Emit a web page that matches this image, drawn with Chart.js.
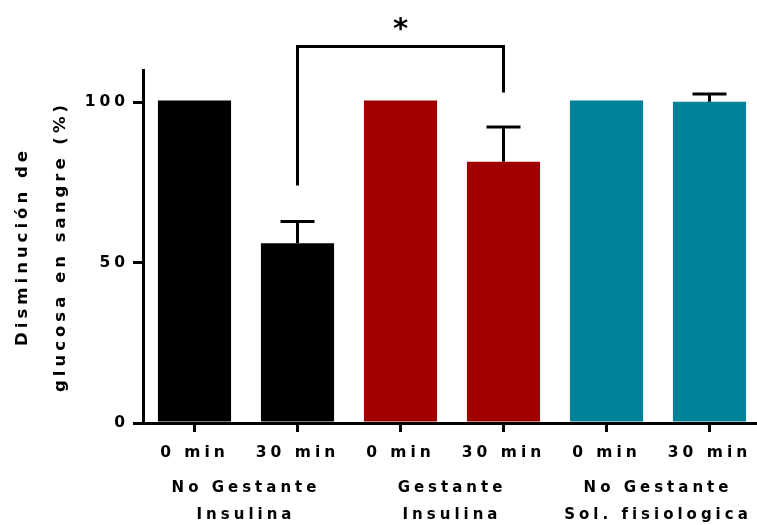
<!DOCTYPE html>
<html lang="es">
<head>
    <meta charset="UTF-8">
    <title>Glucosa en sangre</title>
    <script src="https://cdn.jsdelivr.net/npm/chart.js@4.4.1/dist/chart.umd.min.js"></script>
    <style>
        html, body { margin: 0; padding: 0; background: #fff; }
        #outer { width: 757px; height: 525px; overflow: hidden; }
        #wrap { width: 761px; height: 525px; position: relative; }
    </style>
</head>
<body>
<div id="outer"><div id="wrap"><canvas id="myChart"></canvas></div></div>
<script>
    // datos
    var categories = ['0 min', '30 min', '0 min', '30 min', '0 min', '30 min'];
    var groups = [['No Gestante', 'Insulina'], ['Gestante', 'Insulina'], ['No Gestante', 'Sol. fisiologica']];
    var values = [100.5, 56, 100.5, 81.4, 100.5, 100.1];
    var errUp = [0, 6.8, 0, 10.8, 0, 2.4];
    var barColors = ['#000000', '#000000', '#a00000', '#a00000', '#008299', '#008299'];
    var yTicks = [0, 50, 100];

    // corchete de significancia: barra 2 contra barra 4
    var bracketBars = [1, 3];
    var bracketEnds = [74, 103];
    var bracketTop = 117.3;
    var starLabel = '*';
    var starValue = 124;

    var fontFam = '"DejaVu Sans", Verdana, sans-serif';

    var extras = {
        id: 'extras',
        beforeDraw: function(chart) {
            chart.ctx.letterSpacing = '4px';
        },
        afterDatasetsDraw: function(chart) {
            var ctx = chart.ctx;
            var y = chart.scales.y;
            var meta = chart.getDatasetMeta(0);
            ctx.save();
            ctx.strokeStyle = '#000';
            ctx.lineWidth = 3;
            // barras de error (solo hacia arriba)
            for (var i = 0; i < values.length; i++) {
                if (!errUp[i]) continue;
                var cx = meta.data[i].x;
                var y0 = y.getPixelForValue(values[i]);
                var y1 = y.getPixelForValue(values[i] + errUp[i]);
                ctx.beginPath();
                ctx.moveTo(cx, y0);
                ctx.lineTo(cx, y1);
                ctx.moveTo(cx - 17, y1);
                ctx.lineTo(cx + 17, y1);
                ctx.stroke();
            }
            // corchete
            var xa = meta.data[bracketBars[0]].x;
            var xb = meta.data[bracketBars[1]].x;
            var yt = y.getPixelForValue(bracketTop);
            ctx.beginPath();
            ctx.moveTo(xa, y.getPixelForValue(bracketEnds[0]));
            ctx.lineTo(xa, yt);
            ctx.lineTo(xb, yt);
            ctx.lineTo(xb, y.getPixelForValue(bracketEnds[1]));
            ctx.stroke();
            ctx.letterSpacing = '0px';
            ctx.fillStyle = '#000';
            ctx.font = 'bold 29px ' + fontFam;
            ctx.textAlign = 'center';
            ctx.textBaseline = 'middle';
            ctx.fillText(starLabel, (xa + xb) / 2, y.getPixelForValue(starValue) + 5);
            ctx.restore();
        }
    };

    var ctx = document.getElementById('myChart').getContext('2d');
    var myChart = new Chart(ctx, {
        type: 'bar',
        data: {
            labels: categories,
            datasets: [{
                data: values,
                backgroundColor: barColors,
                borderWidth: 0,
                barPercentage: 0.71,
                categoryPercentage: 1
            }]
        },
        options: {
            responsive: true,
            maintainAspectRatio: false,
            animation: false,
            layout: { padding: { top: 70, left: 0, right: 0, bottom: 0 } },
            plugins: {
                legend: { display: false },
                tooltip: { enabled: false }
            },
            scales: {
                y: {
                    min: 0,
                    max: 110,
                    afterFit: function(s) { s.width = 143; },
                    afterBuildTicks: function(s) {
                        s.ticks = yTicks.map(function(v) { return { value: v }; });
                    },
                    ticks: {
                        color: '#000',
                        padding: 4,
                        font: { family: fontFam, size: 15.5, weight: 'bold' }
                    },
                    grid: {
                        drawOnChartArea: false,
                        drawTicks: true,
                        tickLength: 10,
                        lineWidth: 3,
                        color: '#000'
                    },
                    border: { display: true, color: '#000', width: 3 },
                    title: {
                        display: true,
                        text: ['Disminución de', 'glucosa en sangre (%)'],
                        color: '#000',
                        padding: { top: 4, bottom: 0 },
                        font: { family: fontFam, size: 16.5, weight: 'bold', lineHeight: 2.3 }
                    }
                },
                x: {
                    afterFit: function(s) { s.height = 47; },
                    ticks: {
                        color: '#000',
                        padding: 12,
                        maxRotation: 0,
                        autoSkip: false,
                        font: { family: fontFam, size: 15.5, weight: 'bold' }
                    },
                    grid: {
                        offset: false,
                        drawOnChartArea: false,
                        drawTicks: true,
                        tickLength: 9,
                        lineWidth: 3,
                        color: '#000'
                    },
                    border: { display: true, color: '#000', width: 3 }
                },
                x2: {
                    type: 'category',
                    labels: groups,
                    position: 'bottom',
                    offset: true,
                    afterFit: function(s) { s.height = 55; },
                    ticks: {
                        color: '#000',
                        padding: 4.5,
                        maxRotation: 0,
                        autoSkip: false,
                        font: { family: fontFam, size: 15, weight: 'bold', lineHeight: 1.8 }
                    },
                    grid: { display: false, drawTicks: false },
                    border: { display: false }
                }
            }
        },
        plugins: [extras]
    });
</script>
</body>
</html>
